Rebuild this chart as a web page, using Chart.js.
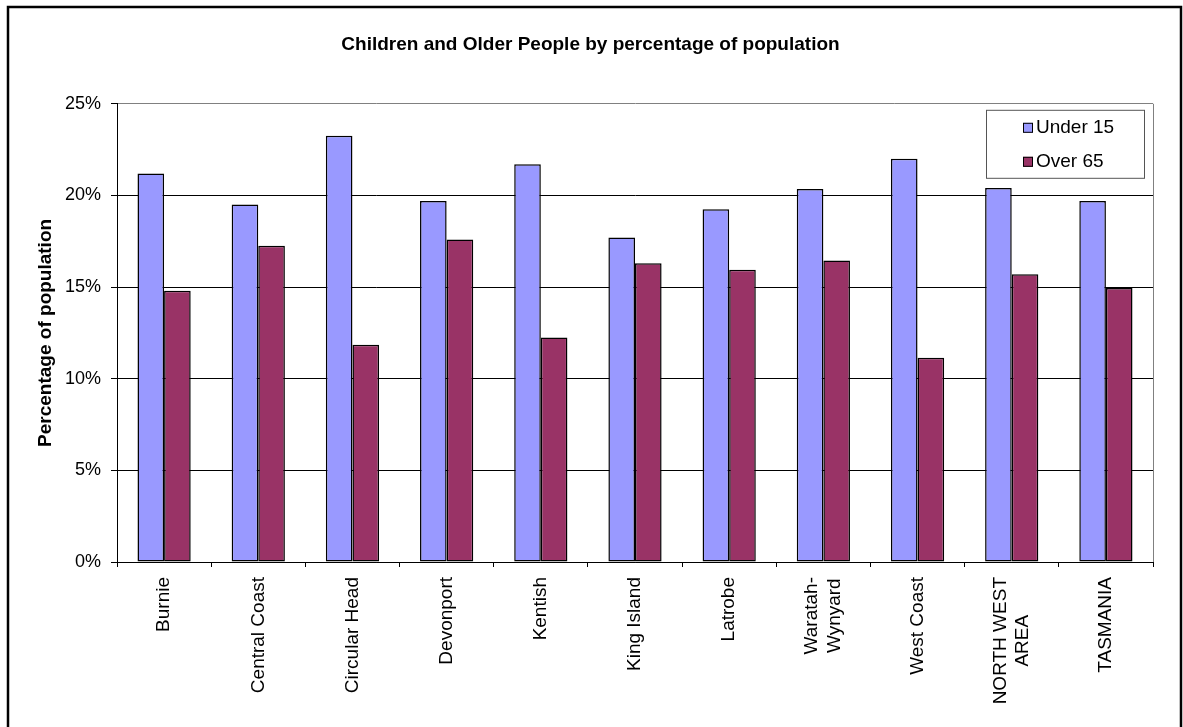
<!DOCTYPE html>
<html>
<head>
<meta charset="utf-8">
<title>Children and Older People</title>
<script src="https://cdn.jsdelivr.net/npm/chart.js@4/dist/chart.umd.min.js"></script>
<style>
  body { margin: 0; background: #fff; }
  canvas { display: block; }
</style>
</head>
<body>
<canvas id="myChart" width="1183" height="727"></canvas>
<script>
// areas along the x axis (arrays = two-line labels)
const areas = [
  "Burnie", "Central Coast", "Circular Head", "Devonport", "Kentish",
  "King Island", "Latrobe", ["Waratah-", "Wynyard"], "West Coast",
  ["NORTH WEST", "AREA"], "TASMANIA"
];
// percent of population
const under15 = [21.2, 19.5, 23.25, 19.7, 21.7, 17.7, 19.25, 20.35, 22.0, 20.4, 19.7];
const over65  = [14.8, 17.25, 11.85, 17.6, 12.25, 16.3, 15.95, 16.45, 11.15, 15.7, 14.95];
const yTicks = [0, 5, 10, 15, 20, 25];

Chart.defaults.font.family = "'Liberation Sans', Arial, sans-serif";
Chart.defaults.color = "#000";

// white page + outer frame
const frame = {
  id: 'frame',
  beforeDraw(chart) {
    const ctx = chart.ctx;
    ctx.save();
    ctx.fillStyle = '#fff';
    ctx.fillRect(0, 0, chart.width, chart.height);
    ctx.restore();
  },
  afterDraw(chart) {
    const ctx = chart.ctx;
    ctx.save();
    ctx.strokeStyle = '#000';
    ctx.lineWidth = 2.5;
    ctx.strokeRect(8, 7, chart.width - 10, chart.height + 20);
    ctx.restore();
  }
};

// grey right edge of the plot area
const plotEdge = {
  id: 'plotEdge',
  beforeDatasetsDraw(chart) {
    const {ctx, chartArea: a} = chart;
    ctx.save();
    ctx.strokeStyle = '#808080';
    ctx.lineWidth = 1;
    ctx.beginPath();
    ctx.moveTo(a.right + 0.5, a.top);
    ctx.lineTo(a.right + 0.5, a.bottom);
    ctx.stroke();
    ctx.restore();
  }
};

// two-line labels: centre the block on the tick and centre each line
const centreLabels = {
  id: 'centreLabels',
  beforeDraw(chart) {
    const x = chart.scales.x;
    const ctx = chart.ctx;
    const items = x.getLabelItems(chart.chartArea);
    items.forEach(it => {
      if (Array.isArray(it.label) && !it._moved) {
        it.textOffset -= (it.label.length - 1) * it.font.lineHeight / 2;
        ctx.save();
        ctx.font = it.font.string;
        const maxW = Math.max(...it.label.map(s => ctx.measureText(s).width));
        ctx.restore();
        it.options.textAlign = 'center';
        it.options.translation[1] += maxW / 2;
        it._moved = true;
      }
    });
  }
};

// boxed legend inside the plot
const boxLegend = {
  id: 'boxLegend',
  afterDraw(chart) {
    const {ctx, chartArea: a} = chart;
    const w = 158, h = 68;
    const left = a.right - w - 9, top = a.top + 6;
    ctx.save();
    ctx.fillStyle = '#fff';
    ctx.fillRect(left, top, w, h);
    ctx.strokeStyle = '#555';
    ctx.lineWidth = 1;
    ctx.strokeRect(left + 0.5, top + 0.5, w, h);
    ctx.font = "19px 'Liberation Sans', Arial, sans-serif";
    ctx.textBaseline = 'middle';
    chart.data.datasets.forEach((ds, i) => {
      const cy = top + 18 + i * 34;
      ctx.fillStyle = ds.backgroundColor;
      ctx.fillRect(left + 37, cy - 5, 10, 10);
      ctx.strokeStyle = '#000';
      ctx.strokeRect(left + 37.5, cy - 4.5, 9, 9);
      ctx.fillStyle = '#000';
      ctx.fillText(ds.label, left + 50, cy);
    });
    ctx.restore();
  }
};

new Chart("myChart", {
  type: "bar",
  data: {
    labels: areas,
    datasets: [{
      label: "Under 15",
      data: under15,
      backgroundColor: "#9999FF",
      borderColor: "#000",
      borderWidth: 1.5,
      borderSkipped: false,
      categoryPercentage: 0.565,
      barPercentage: 1
    }, {
      label: "Over 65",
      data: over65,
      backgroundColor: "#993366",
      borderColor: "#000",
      borderWidth: 1.5,
      borderSkipped: false,
      categoryPercentage: 0.565,
      barPercentage: 1
    }]
  },
  options: {
    responsive: false,
    animation: false,
    devicePixelRatio: 1,
    layout: { padding: { left: 28, right: 30, top: 0, bottom: 0 } },
    plugins: {
      legend: { display: false },
      tooltip: { enabled: false },
      title: {
        display: true,
        text: "Children and Older People by percentage of population",
        font: { size: 19, weight: 'bold' },
        padding: { top: 33, bottom: 48 }
      }
    },
    scales: {
      x: {
        grid: { offset: true, drawOnChartArea: false, tickLength: 5, color: '#000' },
        border: { color: '#000' },
        ticks: {
          font: { size: 19 },
          minRotation: 90,
          maxRotation: 90,
          autoSkip: false,
          padding: 10
        },
        afterFit(scale) { scale.height = 165; }
      },
      y: {
        min: 0,
        max: 25,
        afterBuildTicks(scale) { scale.ticks = yTicks.map(v => ({ value: v })); },
        grid: {
          color: c => (c.tick && c.tick.value === 25 ? '#808080' : '#000'),
          tickColor: '#000',
          tickLength: 6
        },
        border: { color: '#000' },
        ticks: {
          font: { size: 18 },
          padding: 10,
          callback: v => v + '%'
        },
        title: {
          display: true,
          text: "Percentage of population",
          font: { size: 19, weight: 'bold' },
          padding: { top: 6, bottom: 0 }
        },
        afterFit(scale) { scale.width = 89; }
      }
    }
  },
  plugins: [frame, plotEdge, centreLabels, boxLegend]
});
</script>
</body>
</html>
